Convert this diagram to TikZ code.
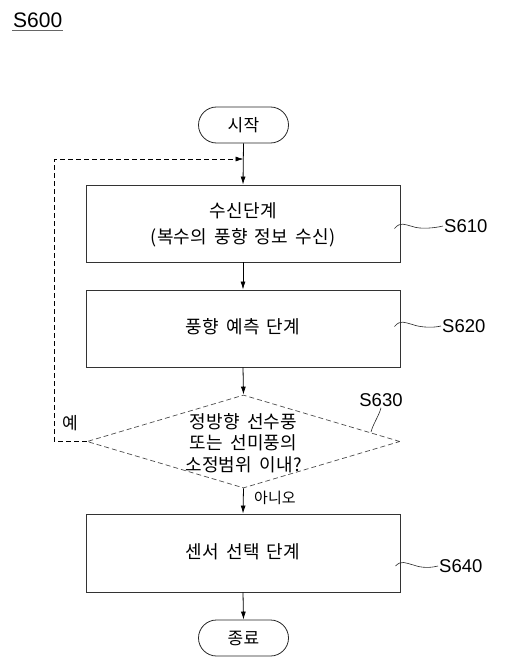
\documentclass[tikz,border=0pt]{standalone}
\usepackage{fontspec}
\setmainfont{Liberation Sans}
\newfontfamily\kr[LetterSpace=2,WordSpace=1.6]{Noto Sans CJK KR}
\newfontfamily\krn{Noto Sans CJK KR}
\usetikzlibrary{arrows.meta,shapes.geometric,shapes.misc}
\begin{document}
\begin{tikzpicture}[x=1pt,y=-1pt,
  box/.style={draw=black!80,line width=0.9pt,minimum width=314pt,inner sep=0pt},
  term/.style={draw=black!85,line width=0.8pt,rounded rectangle,minimum width=90pt,minimum height=36pt,inner sep=0pt,font=\kr\fontsize{17}{20}\selectfont},
  dec/.style={draw=black!70,line width=0.7pt,dash pattern=on 5pt off 3pt,diamond,minimum width=313pt,minimum height=93pt,inner sep=0pt,aspect=3.37},
  flow/.style={line width=0.8pt,-{Latex[length=8pt,width=5pt]}},
  back/.style={line width=0.7pt,dash pattern=on 5pt off 3pt,-{Latex[length=8pt,width=5pt]}},
  lead/.style={line width=0.6pt,black!85},
  slabel/.style={font=\fontsize{18.5}{20}\selectfont,inner sep=1pt},
  txt/.style={font=\kr\fontsize{18}{21.5}\selectfont,align=center,inner sep=0pt}
]
\path[use as bounding box] (0,0) rectangle (508,669);

% title
\node[slabel,font=\fontsize{21}{24}\selectfont,anchor=west] (s600) at (12,20) {S600};
\draw[black!60,line width=0.6pt] ([yshift=-2pt]s600.south west) -- ([yshift=-2pt]s600.south east);

% nodes
\node[term] (start) at (243.5,125) {시작};
\node[box,minimum height=77pt] (b1) at (243,223.5) {};
\node[txt,font=\kr\fontsize{18}{26}\selectfont] (t1) at (243,225) {수신단계\\(복수의 풍향 정보 수신)};
\node[box,minimum height=77pt] (b2) at (243,328.5) {};
\node[txt] (t2) at (243,327) {풍향 예측 단계};
\node[dec] (d) at (243.5,441.5) {};
\node[txt] (t3) at (243.5,443) {정방향 선수풍\\또는 선미풍의\\소정범위 이내?};
\node[box,minimum height=78pt] (b3) at (243,553) {};
\node[txt] (t4) at (243,552) {센서 선택 단계};
\node[term] (end) at (243.5,638) {종료};

% flow arrows
\coordinate (j) at (243.5,159);
\draw[flow] (start.south) -- (b1.north);
\draw[flow] (b1.south) -- (b2.north);
\draw[flow] (b2.south) -- (d.north);
\draw[flow] (d.south) -- (b3.north);
\draw[flow] (b3.south) -- (end.north);
\draw[back] (d.west) -- ++(-32,0) |- (j);

% branch labels
\node[font=\krn\fontsize{17}{20}\selectfont,inner sep=0pt] (yes) at (70,423) {예};
\node[font=\krn\fontsize{15}{20}\selectfont,inner sep=0pt,anchor=west] (no) at (254,498) {아니오};

% step labels
\node[slabel,anchor=west] (l610) at (443,226) {S610};
\node[slabel,anchor=west] (l620) at (441,326) {S620};
\node[slabel] (l630) at (381,400) {S630};
\node[slabel,anchor=west] (l640) at (438,566) {S640};

\draw[lead] ([shift={(-6,5)}]b1.east) .. controls +(6,-7) and +(-8,-2) .. +(18,-2) .. controls +(8,3) and +(-8,2) .. (l610.west);
\draw[lead] ([shift={(-6,-2)}]b2.east) .. controls +(6,-7) and +(-8,-2) .. +(18,-2) .. controls +(8,3) and +(-8,2) .. (l620.west);
\draw[lead] ([shift={(-5,13)}]b3.east) .. controls +(6,-6) and +(-8,-2) .. +(18,-1) .. controls +(8,3) and +(-8,2) .. (l640.west);
\coordinate (p630) at (371,432);
\draw[lead] (p630) .. controls +(2,-8) and +(-2,8) .. (l630.south);
\end{tikzpicture}
\end{document}
